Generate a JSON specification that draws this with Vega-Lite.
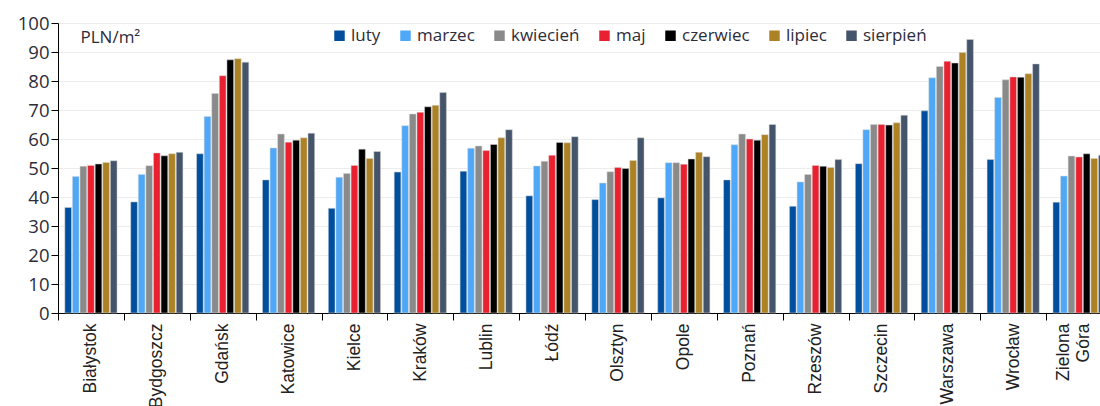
{
  "$schema": "https://vega.github.io/schema/vega-lite/v6.json",
  "width": 1042,
  "height": 290,
  "autosize": {"type": "none"},
  "padding": {"left": 58, "top": 23, "right": 0, "bottom": 93},
  "background": "white",
  "config": {"view": {"stroke": null}},
  "data": {"values": [
    {"city": "Białystok", "month": "luty", "value": 36.4},
    {"city": "Białystok", "month": "marzec", "value": 47.1},
    {"city": "Białystok", "month": "kwiecień", "value": 50.6},
    {"city": "Białystok", "month": "maj", "value": 50.9},
    {"city": "Białystok", "month": "czerwiec", "value": 51.4},
    {"city": "Białystok", "month": "lipiec", "value": 51.9},
    {"city": "Białystok", "month": "sierpień", "value": 52.5},
    {"city": "Bydgoszcz", "month": "luty", "value": 38.3},
    {"city": "Bydgoszcz", "month": "marzec", "value": 47.8},
    {"city": "Bydgoszcz", "month": "kwiecień", "value": 50.8},
    {"city": "Bydgoszcz", "month": "maj", "value": 55.2},
    {"city": "Bydgoszcz", "month": "czerwiec", "value": 54.2},
    {"city": "Bydgoszcz", "month": "lipiec", "value": 54.9},
    {"city": "Bydgoszcz", "month": "sierpień", "value": 55.4},
    {"city": "Gdańsk", "month": "luty", "value": 54.9},
    {"city": "Gdańsk", "month": "marzec", "value": 67.8},
    {"city": "Gdańsk", "month": "kwiecień", "value": 75.7},
    {"city": "Gdańsk", "month": "maj", "value": 81.8},
    {"city": "Gdańsk", "month": "czerwiec", "value": 87.3},
    {"city": "Gdańsk", "month": "lipiec", "value": 87.7},
    {"city": "Gdańsk", "month": "sierpień", "value": 86.5},
    {"city": "Katowice", "month": "luty", "value": 45.9},
    {"city": "Katowice", "month": "marzec", "value": 56.9},
    {"city": "Katowice", "month": "kwiecień", "value": 61.7},
    {"city": "Katowice", "month": "maj", "value": 58.9},
    {"city": "Katowice", "month": "czerwiec", "value": 59.6},
    {"city": "Katowice", "month": "lipiec", "value": 60.4},
    {"city": "Katowice", "month": "sierpień", "value": 62.0},
    {"city": "Kielce", "month": "luty", "value": 36.1},
    {"city": "Kielce", "month": "marzec", "value": 46.8},
    {"city": "Kielce", "month": "kwiecień", "value": 48.1},
    {"city": "Kielce", "month": "maj", "value": 50.9},
    {"city": "Kielce", "month": "czerwiec", "value": 56.5},
    {"city": "Kielce", "month": "lipiec", "value": 53.3},
    {"city": "Kielce", "month": "sierpień", "value": 55.7},
    {"city": "Kraków", "month": "luty", "value": 48.6},
    {"city": "Kraków", "month": "marzec", "value": 64.6},
    {"city": "Kraków", "month": "kwiecień", "value": 68.6},
    {"city": "Kraków", "month": "maj", "value": 69.2},
    {"city": "Kraków", "month": "czerwiec", "value": 71.1},
    {"city": "Kraków", "month": "lipiec", "value": 71.6},
    {"city": "Kraków", "month": "sierpień", "value": 76.0},
    {"city": "Lublin", "month": "luty", "value": 48.9},
    {"city": "Lublin", "month": "marzec", "value": 56.8},
    {"city": "Lublin", "month": "kwiecień", "value": 57.6},
    {"city": "Lublin", "month": "maj", "value": 56.0},
    {"city": "Lublin", "month": "czerwiec", "value": 58.1},
    {"city": "Lublin", "month": "lipiec", "value": 60.4},
    {"city": "Lublin", "month": "sierpień", "value": 63.2},
    {"city": "Łódź", "month": "luty", "value": 40.4},
    {"city": "Łódź", "month": "marzec", "value": 50.7},
    {"city": "Łódź", "month": "kwiecień", "value": 52.3},
    {"city": "Łódź", "month": "maj", "value": 54.4},
    {"city": "Łódź", "month": "czerwiec", "value": 58.8},
    {"city": "Łódź", "month": "lipiec", "value": 58.7},
    {"city": "Łódź", "month": "sierpień", "value": 60.8},
    {"city": "Olsztyn", "month": "luty", "value": 39.1},
    {"city": "Olsztyn", "month": "marzec", "value": 44.8},
    {"city": "Olsztyn", "month": "kwiecień", "value": 48.7},
    {"city": "Olsztyn", "month": "maj", "value": 50.2},
    {"city": "Olsztyn", "month": "czerwiec", "value": 49.8},
    {"city": "Olsztyn", "month": "lipiec", "value": 52.6},
    {"city": "Olsztyn", "month": "sierpień", "value": 60.4},
    {"city": "Opole", "month": "luty", "value": 39.7},
    {"city": "Opole", "month": "marzec", "value": 51.8},
    {"city": "Opole", "month": "kwiecień", "value": 51.8},
    {"city": "Opole", "month": "maj", "value": 51.3},
    {"city": "Opole", "month": "czerwiec", "value": 53.1},
    {"city": "Opole", "month": "lipiec", "value": 55.4},
    {"city": "Opole", "month": "sierpień", "value": 53.9},
    {"city": "Poznań", "month": "luty", "value": 45.9},
    {"city": "Poznań", "month": "marzec", "value": 58.0},
    {"city": "Poznań", "month": "kwiecień", "value": 61.7},
    {"city": "Poznań", "month": "maj", "value": 60.0},
    {"city": "Poznań", "month": "czerwiec", "value": 59.6},
    {"city": "Poznań", "month": "lipiec", "value": 61.5},
    {"city": "Poznań", "month": "sierpień", "value": 65.0},
    {"city": "Rzeszów", "month": "luty", "value": 36.8},
    {"city": "Rzeszów", "month": "marzec", "value": 45.2},
    {"city": "Rzeszów", "month": "kwiecień", "value": 47.8},
    {"city": "Rzeszów", "month": "maj", "value": 50.9},
    {"city": "Rzeszów", "month": "czerwiec", "value": 50.6},
    {"city": "Rzeszów", "month": "lipiec", "value": 50.2},
    {"city": "Rzeszów", "month": "sierpień", "value": 52.9},
    {"city": "Szczecin", "month": "luty", "value": 51.5},
    {"city": "Szczecin", "month": "marzec", "value": 63.2},
    {"city": "Szczecin", "month": "kwiecień", "value": 65.0},
    {"city": "Szczecin", "month": "maj", "value": 65.0},
    {"city": "Szczecin", "month": "czerwiec", "value": 64.8},
    {"city": "Szczecin", "month": "lipiec", "value": 65.6},
    {"city": "Szczecin", "month": "sierpień", "value": 68.2},
    {"city": "Warszawa", "month": "luty", "value": 69.7},
    {"city": "Warszawa", "month": "marzec", "value": 81.1},
    {"city": "Warszawa", "month": "kwiecień", "value": 85.0},
    {"city": "Warszawa", "month": "maj", "value": 86.8},
    {"city": "Warszawa", "month": "czerwiec", "value": 86.2},
    {"city": "Warszawa", "month": "lipiec", "value": 89.8},
    {"city": "Warszawa", "month": "sierpień", "value": 94.3},
    {"city": "Wrocław", "month": "luty", "value": 52.9},
    {"city": "Wrocław", "month": "marzec", "value": 74.3},
    {"city": "Wrocław", "month": "kwiecień", "value": 80.4},
    {"city": "Wrocław", "month": "maj", "value": 81.4},
    {"city": "Wrocław", "month": "czerwiec", "value": 81.3},
    {"city": "Wrocław", "month": "lipiec", "value": 82.5},
    {"city": "Wrocław", "month": "sierpień", "value": 85.9},
    {"city": "Zielona Góra", "month": "luty", "value": 38.2},
    {"city": "Zielona Góra", "month": "marzec", "value": 47.2},
    {"city": "Zielona Góra", "month": "kwiecień", "value": 54.1},
    {"city": "Zielona Góra", "month": "maj", "value": 53.8},
    {"city": "Zielona Góra", "month": "czerwiec", "value": 54.9},
    {"city": "Zielona Góra", "month": "lipiec", "value": 53.3},
    {"city": "Zielona Góra", "month": "sierpień", "value": 54.4}
  ]},
  "mark": {"type": "bar", "stroke": "#d6d6d6", "strokeWidth": 0.5},
  "encoding": {
    "x": {
      "field": "city",
      "type": "nominal",
      "sort": null,
      "scale": {"range": [0, 1054], "paddingInner": 0, "paddingOuter": 0},
      "axis": {
        "title": null,
        "labelAngle": 270,
        "labelAlign": "right",
        "labelBaseline": "middle",
        "labelFont": "Liberation Sans",
        "labelFontSize": 17.5,
        "labelColor": "#222222",
        "labelPadding": 3,
        "labelLineHeight": 20,
        "labelOffset": {"condition": {"test": "datum.value == 'Zielona Góra'", "value": -16}, "value": 0},
        "labelExpr": "datum.value == 'Zielona Góra' ? ['Zielona', 'Góra'] : datum.value",
        "labelLimit": 300,
        "tickBand": "extent",
        "tickSize": 7,
        "tickColor": "#000000",
        "domainColor": "#000000",
        "domainWidth": 1,
        "grid": false
      }
    },
    "xOffset": {
      "field": "month",
      "sort": ["luty", "marzec", "kwiecień", "maj", "czerwiec", "lipiec", "sierpień"],
      "scale": {"paddingInner": 0.12, "paddingOuter": 0.9}
    },
    "y": {
      "field": "value",
      "type": "quantitative",
      "scale": {"domain": [0, 100], "nice": false},
      "axis": {
        "values": [0, 10, 20, 30, 40, 50, 60, 70, 80, 90, 100],
        "title": "PLN/m²",
        "titleAngle": 0,
        "titleX": 22,
        "titleY": 14,
        "titleAlign": "left",
        "titleBaseline": "middle",
        "titleFont": "Open Sans",
        "titleFontSize": 17,
        "titleFontWeight": "normal",
        "titleColor": "#2d2d3a",
        "labelFont": "Open Sans",
        "labelFontSize": 18.5,
        "labelColor": "#2d2d3a",
        "labelPadding": 2,
        "tickSize": 7,
        "tickColor": "#000000",
        "domainColor": "#000000",
        "gridColor": "#ececec",
        "gridWidth": 1
      }
    },
    "color": {
      "field": "month",
      "type": "nominal",
      "sort": ["luty", "marzec", "kwiecień", "maj", "czerwiec", "lipiec", "sierpień"],
      "scale": {
        "domain": ["luty", "marzec", "kwiecień", "maj", "czerwiec", "lipiec", "sierpień"],
        "range": ["#004f9e", "#4ea8f7", "#8a8a8a", "#e8202f", "#000000", "#ad8224", "#44546a"]
      },
      "legend": {
        "title": null,
        "orient": "none",
        "legendX": 273,
        "legendY": 4,
        "direction": "horizontal",
        "symbolType": "square",
        "symbolSize": 110,
        "symbolStrokeWidth": 0,
        "labelFont": "Open Sans",
        "labelFontSize": 17,
        "labelColor": "#2d2d3a",
        "labelOffset": 3,
        "columnPadding": 16
      }
    }
  }
}
